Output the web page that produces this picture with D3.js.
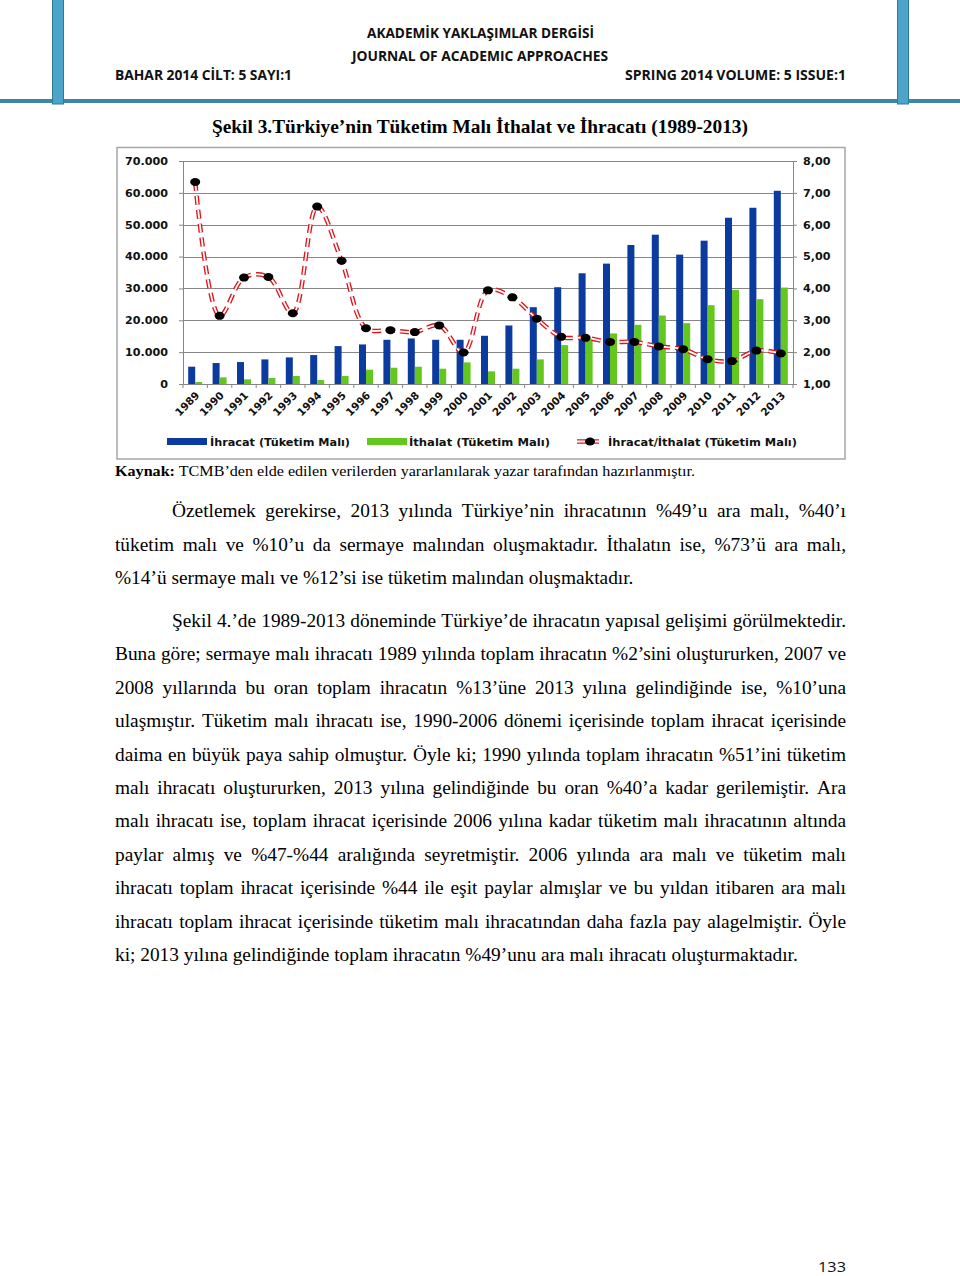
<!DOCTYPE html>
<html><head><meta charset="utf-8">
<script src="https://cdn.jsdelivr.net/npm/d3@7"></script>
<style>body{margin:0;background:#fff}svg{display:block}</style>
</head><body>
<script>
// ---- data ----
const years = ["1989","1990","1991","1992","1993","1994","1995","1996","1997","1998","1999","2000","2001","2002","2003","2004","2005","2006","2007","2008","2009","2010","2011","2012","2013"];
const exportsCons = [5430,6580,6890,7720,8350,9080,11900,12420,13880,14300,13880,13880,15130,18370,24110,30380,34760,37790,43630,46870,40610,44990,52190,55320,60650];
const importsCons = [630,2090,1460,1880,2500,1250,2500,4490,5110,5430,4800,6780,3970,4800,7720,12210,14090,15870,18580,21500,19100,24740,29540,26620,30270];
const ratioCons = [7.34,3.14,4.34,4.36,3.22,6.57,4.87,2.75,2.69,2.63,2.84,1.99,3.94,3.72,3.05,2.48,2.45,2.32,2.32,2.18,2.09,1.78,1.72,2.05,1.96];
const leftTicks = [0,10000,20000,30000,40000,50000,60000,70000];
const rightTicks = [1,2,3,4,5,6,7,8];
const seriesNames = ["İhracat (Tüketim Malı)","İthalat (Tüketim Malı)","İhracat/İthalat (Tüketim Malı)"];

const headerLines = ["AKADEMİK YAKLAŞIMLAR DERGİSİ","JOURNAL OF ACADEMIC APPROACHES","BAHAR 2014 CİLT: 5 SAYI:1","SPRING 2014 VOLUME: 5 ISSUE:1"];
const figTitle = "Şekil 3.Türkiye’nin Tüketim Malı İthalat ve İhracatı (1989-2013)";
const sourceBold = "Kaynak:";
const sourceText = " TCMB’den elde edilen verilerden yararlanılarak yazar tarafından hazırlanmıştır.";
const para1 = [
 "Özetlemek gerekirse, 2013 yılında Türkiye’nin ihracatının %49’u ara malı, %40’ı",
 "tüketim malı ve %10’u da sermaye malından oluşmaktadır. İthalatın ise, %73’ü ara malı,",
 "%14’ü sermaye malı ve %12’si ise tüketim malından oluşmaktadır."];
const para2 = [
 "Şekil 4.’de 1989-2013 döneminde Türkiye’de ihracatın yapısal gelişimi görülmektedir.",
 "Buna göre; sermaye malı ihracatı 1989 yılında toplam ihracatın %2’sini oluştururken, 2007 ve",
 "2008 yıllarında bu oran toplam ihracatın %13’üne 2013 yılına gelindiğinde ise, %10’una",
 "ulaşmıştır. Tüketim malı ihracatı ise, 1990-2006 dönemi içerisinde toplam ihracat içerisinde",
 "daima en büyük paya sahip olmuştur. Öyle ki; 1990 yılında toplam ihracatın %51’ini tüketim",
 "malı ihracatı oluştururken, 2013 yılına gelindiğinde bu oran %40’a kadar gerilemiştir. Ara",
 "malı ihracatı ise, toplam ihracat içerisinde 2006 yılına kadar tüketim malı ihracatının altında",
 "paylar almış ve %47-%44 aralığında seyretmiştir. 2006 yılında ara malı ve tüketim malı",
 "ihracatı toplam ihracat içerisinde %44 ile eşit paylar almışlar ve bu yıldan itibaren ara malı",
 "ihracatı toplam ihracat içerisinde tüketim malı ihracatından daha fazla pay alagelmiştir. Öyle",
 "ki; 2013 yılına gelindiğinde toplam ihracatın %49’unu ara malı ihracatı oluşturmaktadır."];
const pageNumber = "133";

(function(){
const svg = d3.select("body").append("svg").attr("width",960).attr("height",1276);
svg.append("rect").attr("width",960).attr("height",1276).attr("fill","#fff");

// header
svg.append("rect").attr("x",0).attr("y",99).attr("width",960).attr("height",4).attr("fill","#3d86a6");
[52,897].forEach(xx=>svg.append("rect").attr("x",xx+0.5).attr("y",-1).attr("width",11).attr("height",105)
  .attr("fill","#4ca4c8").attr("stroke","#2d7a9a").attr("stroke-width",1));
const hdr = [[367,38,227],[352,61,256],[115,80,177],[625,80,221]];
headerLines.forEach((s,i)=>{
  svg.append("text").attr("x",hdr[i][0]).attr("y",hdr[i][1]).attr("textLength",hdr[i][2])
   .attr("lengthAdjust","spacingAndGlyphs")
   .attr("font-family","'Open Sans', sans-serif").attr("font-weight","bold").attr("font-size",14.5)
   .attr("fill","#111").text(s);
});

// title
svg.append("text").attr("x",212).attr("y",133).attr("textLength",536).attr("lengthAdjust","spacingAndGlyphs")
  .attr("font-family","'Liberation Serif', serif").attr("font-weight","bold").attr("font-size",19)
  .attr("fill","#000").text(figTitle);

// chart frame
svg.append("rect").attr("x",117).attr("y",147.5).attr("width",728).attr("height",311.5)
  .attr("fill","#fff").attr("stroke","#a6a6a6").attr("stroke-width",1.5);

const pL=183, pR=793, pT=161, pB=384;
const x = d3.scaleBand().domain(years).range([pL,pR]).padding(0);
const yL = d3.scaleLinear().domain([0,70000]).range([pB,pT]);
const yR = d3.scaleLinear().domain([1,8]).range([pB,pT]);
const chartFont = "'DejaVu Sans', Verdana, sans-serif";
function fitW(sel,k){ sel.each(function(){ const w=this.getComputedTextLength(); d3.select(this).attr("textLength",w*k).attr("lengthAdjust","spacingAndGlyphs"); }); }

const g = svg.append("g");
g.selectAll(".grid").data(leftTicks.slice(1)).join("line")
  .attr("x1",pL).attr("x2",pR).attr("y1",d=>Math.round(yL(d))+0.5).attr("y2",d=>Math.round(yL(d))+0.5)
  .attr("stroke","#868686").attr("stroke-width",1);

// bars
const bw = 7;
g.selectAll(".bexp").data(exportsCons).join("rect")
  .attr("x",(d,i)=>x(years[i])+x.bandwidth()/2-bw).attr("width",bw)
  .attr("y",d=>yL(d)).attr("height",d=>pB-yL(d)).attr("fill","#0b3b9e");
g.selectAll(".bimp").data(importsCons).join("rect")
  .attr("x",(d,i)=>x(years[i])+x.bandwidth()/2).attr("width",bw)
  .attr("y",d=>yL(d)).attr("height",d=>pB-yL(d)).attr("fill","#64c71e");

// axes
const axL = g.append("g").attr("transform",`translate(${pL},0)`)
  .call(d3.axisLeft(yL).tickValues(leftTicks).tickSize(4).tickPadding(11)
    .tickFormat(d=>d3.format(",")(d).replace(/,/g,".")));
const axR = g.append("g").attr("transform",`translate(${pR},0)`)
  .call(d3.axisRight(yR).tickValues(rightTicks).tickSize(4).tickPadding(6)
    .tickFormat(d=>d3.format(".2f")(d).replace(".",",")));
const axB = g.append("g").attr("transform",`translate(0,${pB})`)
  .call(d3.axisBottom(x).tickSize(0).tickFormat(""));
g.selectAll(".xt").data(d3.range(years.length+1)).join("line")
  .attr("x1",i=>pL+i*x.step()).attr("x2",i=>pL+i*x.step())
  .attr("y1",pB).attr("y2",pB+4).attr("stroke","#868686");
[axL,axR,axB].forEach(a=>{a.select(".domain").attr("stroke","#868686").attr("stroke-width",1);
  a.selectAll(".tick line").attr("stroke","#868686");
  a.selectAll("text").attr("font-family",chartFont).attr("font-weight","bold").attr("font-size",10.5).attr("fill","#111");});
fitW(axL.selectAll("text"),1.06);
fitW(axR.selectAll("text"),1.06);

// year labels
g.selectAll(".yl").data(years).join("text")
  .attr("transform",d=>`translate(${x(d)+x.bandwidth()/2+5},${pB+12}) rotate(-45)`)
  .attr("text-anchor","end").attr("font-family",chartFont).attr("font-weight","bold")
  .attr("font-size",10.5).attr("fill","#111").text(d=>d);

// ratio line
const line = d3.line().x((d,i)=>x(years[i])+x.bandwidth()/2).y(d=>yR(d)).curve(d3.curveCatmullRom.alpha(0.5));
g.append("path").datum(ratioCons).attr("d",line).attr("fill","none")
  .attr("stroke","#e0161c").attr("stroke-width",4.5).attr("stroke-dasharray","9,5");
g.append("path").datum(ratioCons).attr("d",line).attr("fill","none")
  .attr("stroke","#fff").attr("stroke-width",1.8).attr("stroke-dasharray","9,5");
g.selectAll(".mk").data(ratioCons).join("ellipse")
  .attr("cx",(d,i)=>x(years[i])+x.bandwidth()/2).attr("cy",d=>yR(d)).attr("rx",5).attr("ry",4).attr("fill","#000");

// legend
const lg = g.append("g");
lg.append("rect").attr("x",167).attr("y",438).attr("width",40).attr("height",7).attr("fill","#0b3b9e");
lg.append("rect").attr("x",367).attr("y",438).attr("width",40).attr("height",7).attr("fill","#64c71e");
lg.append("line").attr("x1",577).attr("x2",603).attr("y1",441.5).attr("y2",441.5).attr("stroke","#e0161c").attr("stroke-width",4.5).attr("stroke-dasharray","9,4");
lg.append("line").attr("x1",577).attr("x2",603).attr("y1",441.5).attr("y2",441.5).attr("stroke","#fff").attr("stroke-width",1.8).attr("stroke-dasharray","9,4");
lg.append("ellipse").attr("cx",590).attr("cy",441.5).attr("rx",5).attr("ry",4).attr("fill","#000");
const lt = lg.selectAll(".lt").data(seriesNames).join("text")
  .attr("x",(d,i)=>[210,409,608][i]).attr("y",446)
  .attr("font-family",chartFont).attr("font-weight","bold").attr("font-size",10.5).attr("fill","#111").text(d=>d);
lt.each(function(d,i){ d3.select(this).attr("textLength",[140,141,189][i]).attr("lengthAdjust","spacingAndGlyphs"); });

// source line
const src = svg.append("text").attr("x",115).attr("y",476).attr("textLength",580).attr("lengthAdjust","spacingAndGlyphs")
  .attr("font-family","'Liberation Serif', serif").attr("font-size",15.5).attr("fill","#000");
src.append("tspan").attr("font-weight","bold").text(sourceBold);
src.append("tspan").text(sourceText);

// body text
const bodyFont = "'Liberation Serif', 'Times New Roman', serif";
const probe = svg.append("text").attr("font-family",bodyFont).attr("font-size",100).text(para2[para2.length-1]);
const fs = 100*683/probe.node().getComputedTextLength();
probe.remove();
function plain(s,x0,y){ svg.append("text").attr("x",x0).attr("y",y).attr("font-family",bodyFont).attr("font-size",fs).attr("fill","#000").text(s); }
function justify(s,x0,x1,y){
  const words = s.split(" ");
  const ts = words.map(w=>svg.append("text").attr("y",y).attr("font-family",bodyFont).attr("font-size",fs).attr("fill","#000").text(w));
  const ws = ts.map(t=>t.node().getComputedTextLength());
  const gap = (x1-x0-d3.sum(ws))/(words.length-1);
  let cx = x0;
  ts.forEach((t,i)=>{ t.attr("x",cx); cx += ws[i]+gap; });
}
justify(para1[0],172,846,517);
justify(para1[1],115,846,550.5);
plain(para1[2],115,584);
const base2 = 627, lh = 33.4;
para2.forEach((s,i)=>{
  const yy = base2+i*lh;
  const x0 = i===0?172:115;
  if(i===para2.length-1) plain(s,x0,yy); else justify(s,x0,846,yy);
});

// page number
svg.append("text").attr("x",818).attr("y",1271.5).attr("textLength",28).attr("lengthAdjust","spacingAndGlyphs")
  .attr("font-family","'Open Sans', sans-serif").attr("font-size",14.5).attr("fill","#111").text(pageNumber);
})();
</script>
</body></html>
